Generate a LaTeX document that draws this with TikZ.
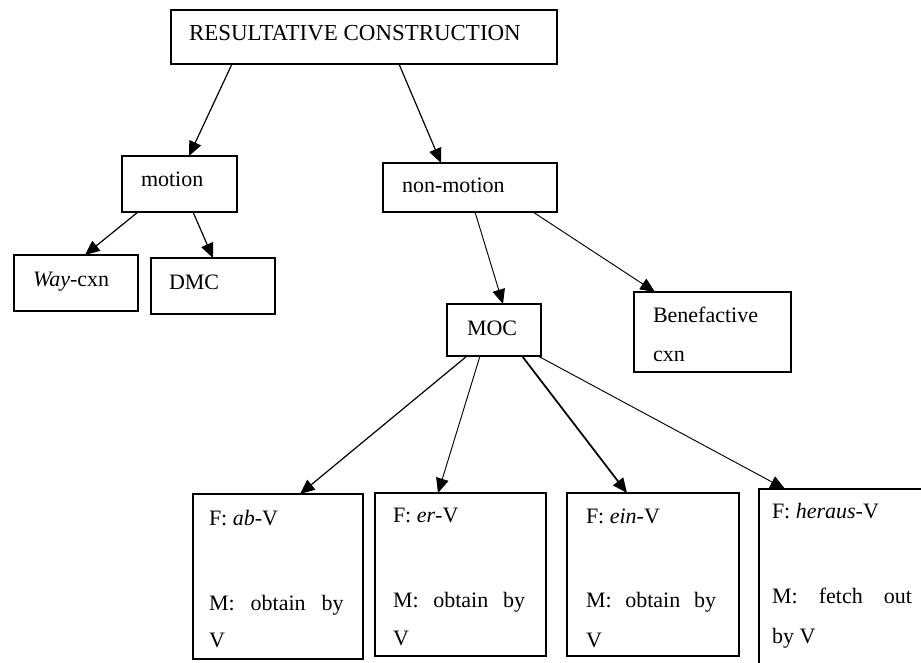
\documentclass[tikz,border=0pt]{standalone}
\usepackage{fontspec}
\setmainfont{Liberation Serif}
\usetikzlibrary{arrows.meta,fit,calc}

\tikzset{
  box/.style={draw, line width=1.2pt, inner sep=0pt, outer sep=0pt},
  lbl/.style={inner sep=0pt, outer sep=0pt, anchor=base west,
              font=\fontsize{16.5}{20}\selectfont},
  title/.style={lbl, font=\fontsize{17.2}{20}\selectfont},
  link/.style={line width=0.9pt, -{Triangle[length=11pt,width=9.5pt]}},
  thin link/.style={link, line width=0.7pt},
  thick link/.style={link, line width=1.3pt},
}

\begin{document}
\begin{tikzpicture}[x=0.75pt,y=-0.75pt]
\useasboundingbox (0,0) rectangle (921,663);
\clip (0,0) rectangle (921,663);

% boxes
\node[box, fit={(171,10) (557,64)}]   (res) {};
\node[box, fit={(122,156) (237,212)}] (motion) {};
\node[box, fit={(383,163) (557,212)}] (nonmotion) {};
\node[box, fit={(14,255) (138,311)}]  (way) {};
\node[box, fit={(151,258) (275,314)}] (dmc) {};
\node[box, fit={(447,304) (541,356)}] (moc) {};
\node[box, fit={(634,292) (791,372)}] (ben) {};
\node[box, fit={(193,494) (363,659)}] (ab) {};
\node[box, fit={(375,493) (546,656)}] (er) {};
\node[box, fit={(567,493) (739,656)}] (ein) {};
\node[box, fit={(759,489) (940,690)}] (heraus) {};

% labels
\node[title] (res-t)  at (189,41)  {RESULTATIVE CONSTRUCTION};
\node[lbl] (motion-t) at (141,187) {motion};
\node[lbl] (nm-t)     at (402,193) {non-motion};
\node[lbl] (way-t)    at (33,286)  {\textit{Way}-cxn};
\node[lbl] (dmc-t)    at (169,289) {DMC};
\node[lbl] (moc-t)    at (467,335) {MOC};
\node[lbl] (ben-t1)   at (653,322) {Benefactive};
\node[lbl] (ben-t2)   at (653,361) {cxn};

\node[lbl] (ab-f)  at (209,525) {F: \textit{ab}-V};
\node[lbl] (ab-m)  at (209,610) {\makebox[101pt][s]{M: obtain by}};
\node[lbl] (ab-v)  at (209,647) {V};

\node[lbl] (er-f)  at (393,522) {F: \textit{er}-V};
\node[lbl] (er-m)  at (393,607) {\makebox[99pt][s]{M: obtain by}};
\node[lbl] (er-v)  at (393,645) {V};

\node[lbl] (ein-f) at (586,523) {F: \textit{ein}-V};
\node[lbl] (ein-m) at (586,607) {\makebox[97.5pt][s]{M: obtain by}};
\node[lbl] (ein-v) at (586,647) {V};

\node[lbl] (her-f) at (772,518) {F: \textit{heraus}-V};
\node[lbl] (her-m) at (772,603) {\makebox[105pt][s]{M: fetch out}};
\node[lbl] (her-v) at (772,643) {by V};

% connectors
\draw[link] ($(res.south west)+(61,0)$)  -- ($(motion.north west)+(67,0)$);
\draw[link] ($(res.south west)+(228,0)$) -- ($(nonmotion.north west)+(58,0)$);
\draw[link] ($(motion.south west)+(16,0)$) -- ($(way.north west)+(71,0)$);
\draw[link] ($(motion.south west)+(71,0)$) -- ($(dmc.north west)+(62,0)$);
\draw[thin link] ($(nonmotion.south west)+(92,0)$)  -- ($(moc.north west)+(56,0)$);
\draw[thin link] ($(nonmotion.south west)+(150,0)$) -- ($(ben.north west)+(21,0)$);
\draw[link] ($(moc.south west)+(20,0)$) -- ($(ab.north west)+(107,0)$);
\draw[thin link] ($(moc.south west)+(33,0)$) -- ($(er.north west)+(63,0)$);
\draw[thick link] ($(moc.south west)+(75,0)$) -- ($(ein.north west)+(60,0)$);
\draw[thin link] ($(moc.south west)+(91,0)$) -- ($(heraus.north west)+(26,0)$);
\end{tikzpicture}
\end{document}
